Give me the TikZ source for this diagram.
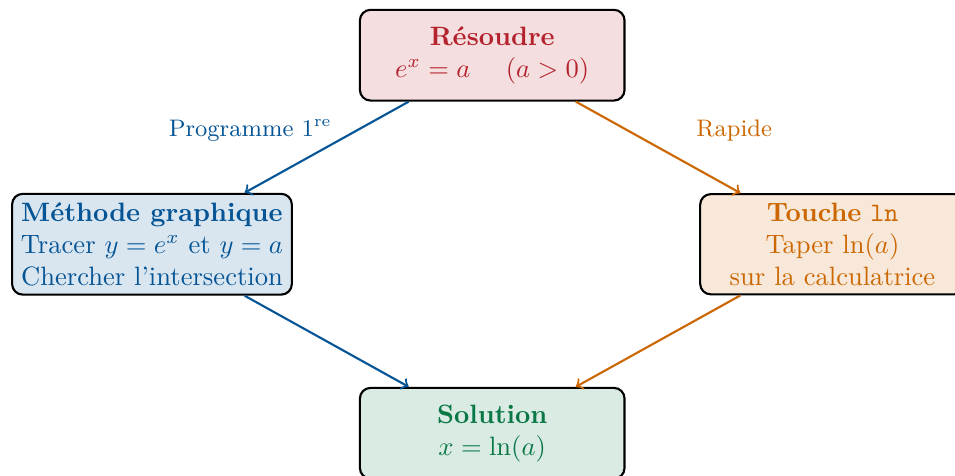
\documentclass[tikz,border=0pt]{standalone}
\usepackage{tikz}

\definecolor{rouge}{RGB}{180,35,45}
\definecolor{bleu}{RGB}{5,85,150}
\definecolor{orange}{RGB}{204,102,0}
\definecolor{vert}{RGB}{10,120,70}

\begin{document}
\begin{tikzpicture}[
  boite/.style={draw=black, thick, rounded corners, align=center,
    minimum width=3.5cm, minimum height=1.2cm},
  fleche/.style={->, thick}]
\useasboundingbox (-6.51,0.73) rectangle (6.12,-5.56);
\node[boite, fill=rouge!15, text=rouge] (resoudre) at (0,0)
  {\textbf{Résoudre}\\ $e^x=a$ \quad $(a>0)$};
\node[boite, fill=bleu!15, text=bleu] (graphique) at (-4.5,-2.5)
  {\textbf{Méthode graphique}\\ Tracer $y=e^x$ et $y=a$\\ Chercher l'intersection};
\node[boite, fill=orange!15, text=orange] (touche) at (4.5,-2.5)
  {\textbf{Touche} \texttt{ln}\\ Taper $\ln(a)$\\ sur la calculatrice};
\node[boite, fill=vert!15, text=vert] (solution) at (0,-5)
  {\textbf{Solution}\\ $x=\ln(a)$};
\draw[fleche, bleu] (resoudre) -- (graphique);
\draw[fleche, orange] (resoudre) -- (touche);
\draw[fleche, bleu] (graphique) -- (solution);
\draw[fleche, orange] (touche) -- (solution);
\node[text=bleu, font=\small] (prog) at (-3.2,-1) {Programme 1\textsuperscript{re}};
\node[text=orange, font=\small] (rapide) at (3.2,-1) {Rapide};
\end{tikzpicture}
\end{document}
